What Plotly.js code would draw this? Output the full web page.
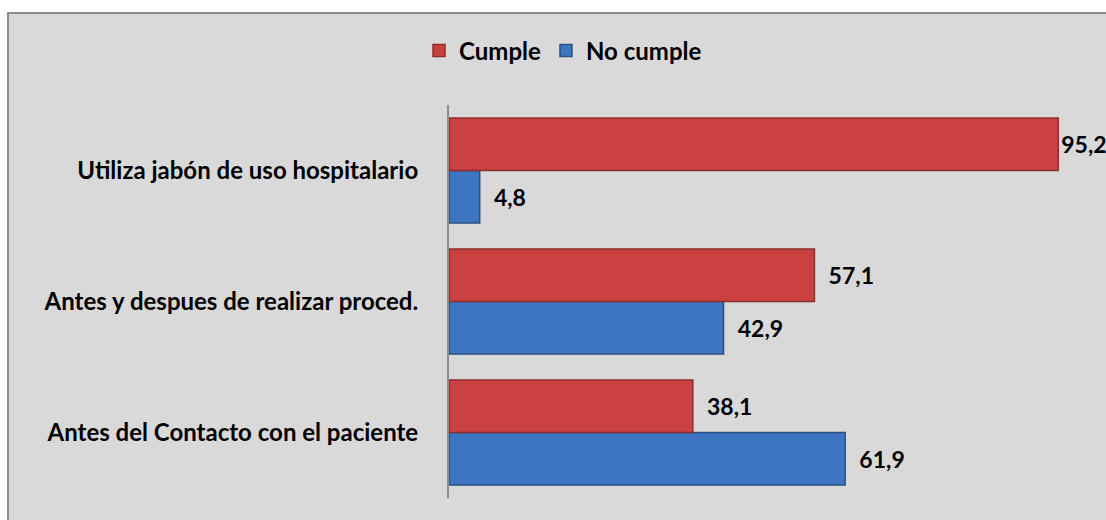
<!DOCTYPE html>
<html>
<head>
<meta charset="utf-8">
<script src="https://cdn.plot.ly/plotly-3.0.1.min.js"></script>
<style>
  html, body { margin:0; padding:0; background:#ffffff; width:1106px; height:520px; overflow:hidden; }
  #frame { position:absolute; left:7px; top:12px; width:1140px; height:520px; border-left:2px solid #8c8c8c; border-top:2px solid #8c8c8c; background:#d9d9d9; overflow:hidden; }
  #chart { width:1140px; height:520px; }
</style>
</head>
<body>
<div id="frame"><div id="chart"></div></div>
<script>
// Categories listed top to bottom as in the chart
var categories = ["Utiliza jabón de uso hospitalario", "Antes y despues de realizar proced.", "Antes del Contacto con el paciente"];
var cumple = [95.2, 57.1, 38.1];
var noCumple = [4.8, 42.9, 61.9];
var seriesNames = ["Cumple", "No cumple"];

var labelFont = {family: "Lato, 'Open Sans', sans-serif", size: 23, color: "#000000", weight: 700};
var pad = "\u00a0\u00a0";

var traces = [
  {
    type: "bar", orientation: "h", name: seriesNames[1],
    y: categories, x: noCumple,
    marker: {color: "#3d75c0", line: {color: "#2a4f86", width: 1.5}},
    texttemplate: pad + "%{x:.1f}", textposition: "outside", cliponaxis: false,
    textfont: labelFont, hoverinfo: "skip"
  },
  {
    type: "bar", orientation: "h", name: seriesNames[0],
    y: categories, x: cumple,
    marker: {color: "#cb4141", line: {color: "#8e2d2d", width: 1.5}},
    texttemplate: ["%{x:.1f}", pad + "%{x:.1f}", pad + "%{x:.1f}"], textposition: "outside", cliponaxis: false,
    textfont: labelFont, hoverinfo: "skip"
  }
];

var layout = {
  width: 1140, height: 520,
  paper_bgcolor: "#d9d9d9", plot_bgcolor: "#d9d9d9",
  separators: ",.",
  barmode: "group", bargap: 0.2, bargroupgap: 0,
  margin: {l: 440, r: 60, t: 91, b: 36},
  font: {family: "Lato, 'Open Sans', sans-serif", color: "#000000"},
  showlegend: true,
  legend: {
    orientation: "h", traceorder: "reversed",
    xref: "container", yref: "container",
    x: 0.486, xanchor: "center", y: 0.929, yanchor: "middle",
    font: {family: "Lato, 'Open Sans', sans-serif", size: 24, color: "#000000", weight: 700},
    bgcolor: "rgba(0,0,0,0)", itemwidth: 30
  },
  xaxis: {range: [0, 100], visible: false, showgrid: false, zeroline: false, fixedrange: true},
  yaxis: {
    type: "category", categoryorder: "array", categoryarray: categories.slice().reverse(),
    showline: true, linecolor: "#8c8c8c", linewidth: 2, ticks: "",
    showgrid: false, zeroline: false, ticklabelstandoff: 24,
    tickfont: {family: "Lato, 'Open Sans', sans-serif", size: 24, color: "#000000", weight: 700},
    fixedrange: true
  }
};

Plotly.newPlot("chart", traces, layout, {displayModeBar: false, staticPlot: true});
</script>
</body>
</html>
